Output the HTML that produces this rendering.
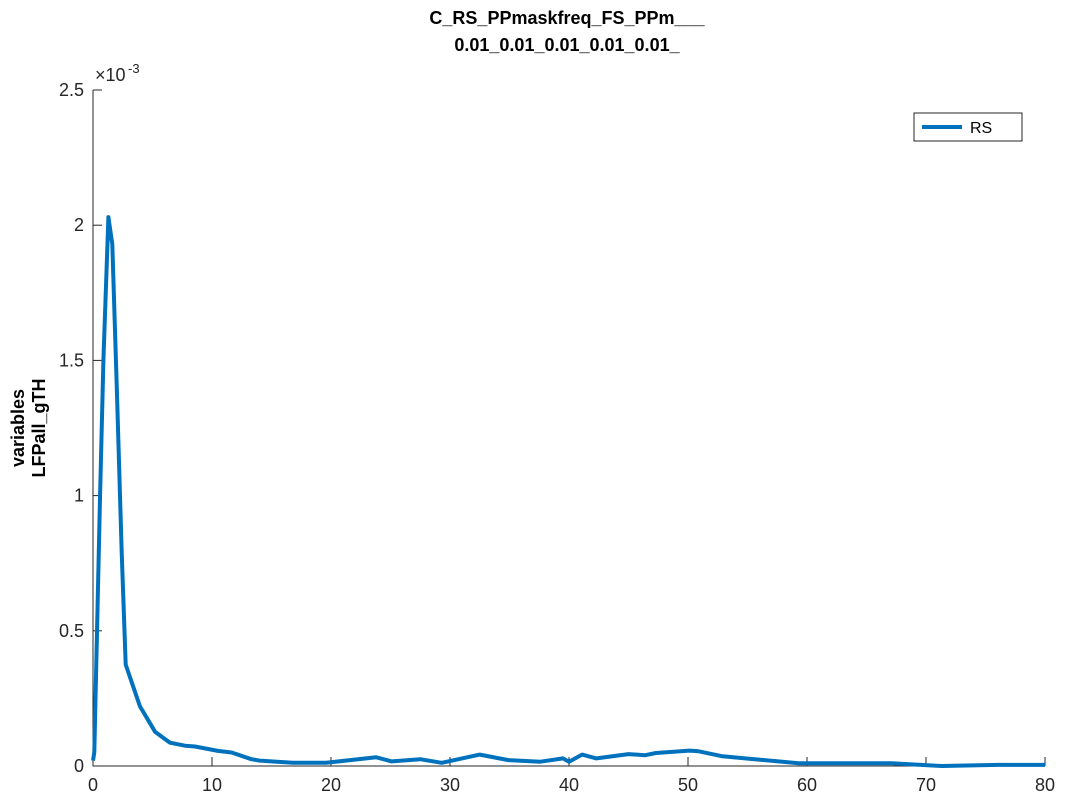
<!DOCTYPE html>
<html><head><meta charset="utf-8"><style>
body{margin:0;background:#fff}
svg{font-family:"Liberation Sans",sans-serif}
</style></head><body>
<svg width="1067" height="800" xmlns="http://www.w3.org/2000/svg">
<rect width="1067" height="800" fill="#fff"/>
<g id="plot"></g>
</svg>
<script>
const xs=[0,0.11,0.59,0.87,1.29,1.62,1.99,2.41,2.75,3.25,3.95,4.23,5.21,6.47,7.73,8.57,10.5,11.65,13.3,14.0,16.8,19.6,23.8,25.1,27.5,29.3,32.5,34.9,37.6,39.5,40.0,41.1,42.3,45.0,46.4,47.3,50.1,50.8,52.9,55.6,59.3,64.4,67.1,71.3,76.0,80.0];
const ys=[0.02,0.05,0.99,1.50,2.03,1.93,1.41,0.79,0.375,0.31,0.22,0.20,0.127,0.086,0.075,0.072,0.056,0.05,0.025,0.02,0.012,0.012,0.032,0.017,0.025,0.012,0.042,0.022,0.016,0.028,0.016,0.042,0.028,0.044,0.04,0.048,0.057,0.055,0.036,0.025,0.01,0.01,0.01,0.0,0.004,0.004];
const xTicks=[0,10,20,30,40,50,60,70,80];
const yTicks=[0,0.5,1,1.5,2,2.5];
const X=v=>93+v*(1045-93)/80;
const Y=v=>766-v*(766-90)/2.5;
const NS="http://www.w3.org/2000/svg";
const g=document.getElementById('plot');
function mk(t,a,txt){const e=document.createElementNS(NS,t);for(const k in a)e.setAttribute(k,a[k]);if(txt!==undefined)e.textContent=txt;g.appendChild(e);return e;}
let ax=mk('path',{d:`M93,90V766H1045`,fill:'none',stroke:'#262626','stroke-width':1});


xTicks.forEach(t=>{const l=mk('line',{x1:X(t),x2:X(t),y1:766,y2:757,stroke:'#262626'});


const s=mk('text',{x:X(t),y:791,'text-anchor':'middle','font-size':18,fill:'#262626'},t);

});
yTicks.forEach(t=>{const l=mk('line',{x1:93,x2:102,y1:Y(t),y2:Y(t),stroke:'#262626'});


const s=mk('text',{x:84,y:Y(t)+6,'text-anchor':'end','font-size':18,fill:'#262626'},t);

});
let ex=mk('text',{x:95,y:81,'font-size':18,fill:'#262626'},'×10');


let ex2=mk('text',{x:128,y:73,'font-size':13,fill:'#262626'},'-3');


let ln=mk('path',{d:xs.map((x,i)=>(i?'L':'M')+X(x).toFixed(1)+','+Y(ys[i]).toFixed(1)).join(''),fill:'none',stroke:'#0072BD','stroke-width':4,'stroke-linejoin':'round'});


let t1=mk('text',{x:567,y:24,'text-anchor':'middle','font-size':18,'font-weight':'bold',fill:'#000'},'C_RS_PPmaskfreq_FS_PPm___');


let t2=mk('text',{x:567,y:51,'text-anchor':'middle','font-size':18,'font-weight':'bold',fill:'#000'},'0.01_0.01_0.01_0.01_0.01_');


let yl=mk('text',{transform:'translate(24,428) rotate(-90)','text-anchor':'middle','font-size':18,'font-weight':'bold',fill:'#000'},'variables');


let yl2=mk('text',{transform:'translate(45,428) rotate(-90)','text-anchor':'middle','font-size':18,'font-weight':'bold',fill:'#000'},'LFPall_gTH');


let lb=mk('rect',{x:914,y:113,width:108,height:28,fill:'#fff',stroke:'#262626'});


let ll=mk('line',{x1:922,x2:962,y1:127,y2:127,stroke:'#0072BD','stroke-width':4});


let lt=mk('text',{x:970,y:133,'font-size':16,fill:'#000'},'RS');


</script>
</body></html>
